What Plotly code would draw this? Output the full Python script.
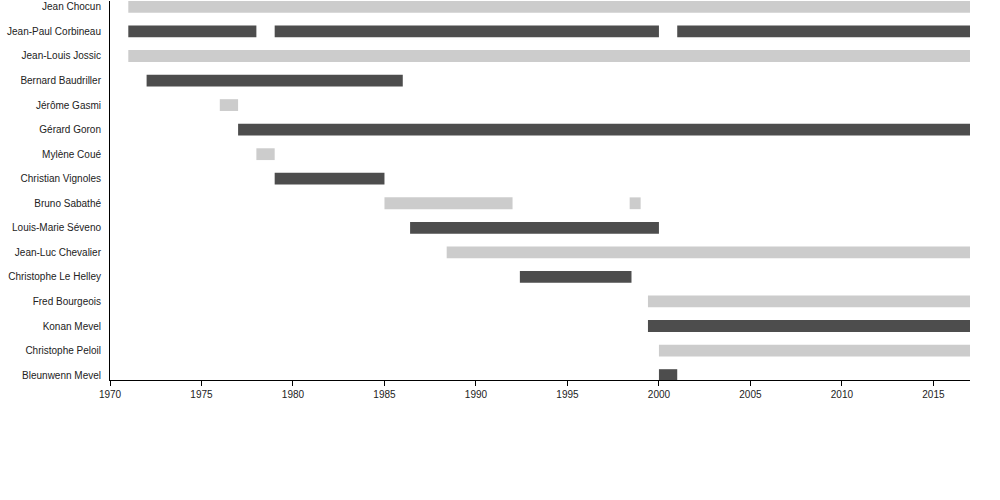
import plotly.graph_objects as go

names = ["Jean Chocun", "Jean-Paul Corbineau", "Jean-Louis Jossic", "Bernard Baudriller",
         "Jérôme Gasmi", "Gérard Goron", "Mylène Coué", "Christian Vignoles",
         "Bruno Sabathé", "Louis-Marie Séveno", "Jean-Luc Chevalier", "Christophe Le Helley",
         "Fred Bourgeois", "Konan Mevel", "Christophe Peloil", "Bleunwenn Mevel"]

# segments: name, start year, end year, shade
seg_name = ["Jean Chocun", "Jean-Paul Corbineau", "Jean-Paul Corbineau", "Jean-Paul Corbineau",
            "Jean-Louis Jossic", "Bernard Baudriller", "Jérôme Gasmi", "Gérard Goron",
            "Mylène Coué", "Christian Vignoles", "Bruno Sabathé", "Bruno Sabathé",
            "Louis-Marie Séveno", "Jean-Luc Chevalier", "Christophe Le Helley",
            "Fred Bourgeois", "Konan Mevel", "Christophe Peloil", "Bleunwenn Mevel"]
seg_start = [1971, 1971, 1979, 2001, 1971, 1972, 1976, 1977, 1978, 1979, 1985, 1998.4,
             1986.4, 1988.4, 1992.4, 1999.4, 1999.4, 2000, 2000]
seg_end = [2017, 1978, 2000, 2017, 2017, 1986, 1977, 2017, 1979, 1985, 1992, 1999,
           2000, 2017, 1998.5, 2017, 2017, 2017, 2001]
seg_shade = ["light", "dark", "dark", "dark", "light", "dark", "light", "dark", "light",
             "dark", "light", "light", "dark", "light", "dark", "light", "dark", "light", "dark"]

x_ticks = [1970, 1975, 1980, 1985, 1990, 1995, 2000, 2005, 2010, 2015]

colors = {"light": "#cccccc", "dark": "#4d4d4d"}

fig = go.Figure()
for shade in ["light", "dark"]:
    idx = [i for i, s in enumerate(seg_shade) if s == shade]
    fig.add_trace(go.Bar(
        orientation="h",
        y=[seg_name[i] for i in idx],
        base=[seg_start[i] for i in idx],
        x=[seg_end[i] - seg_start[i] for i in idx],
        width=0.48,
        marker=dict(color=colors[shade], line=dict(width=0)),
        showlegend=False,
        hoverinfo="skip",
    ))

fig.update_layout(
    width=1000, height=500,
    margin=dict(l=110, r=30, t=1, b=120, autoexpand=False),
    plot_bgcolor="white", paper_bgcolor="white",
    barmode="overlay",
    font=dict(family="Liberation Sans, Arial, sans-serif", size=10, color="#222222"),
    xaxis=dict(
        range=[1970, 2017],
        tickvals=x_ticks,
        ticks="outside", ticklen=5, tickcolor="black", tickwidth=1,
        showline=True, linecolor="black", linewidth=1,
        showgrid=False, zeroline=False, automargin=False,
        tickfont=dict(size=10, color="#222222"),
    ),
    yaxis=dict(
        type="category",
        categoryorder="array", categoryarray=names,
        range=[15.2, -0.24],
        showline=True, linecolor="black", linewidth=1,
        showgrid=False, zeroline=False, ticks="", automargin=False,
        ticklabelstandoff=6,
        tickfont=dict(size=10, color="#222222"),
    ),
)

fig.write_html("out.html", config={"displayModeBar": False},
               post_script="document.body.style.margin='0';")
